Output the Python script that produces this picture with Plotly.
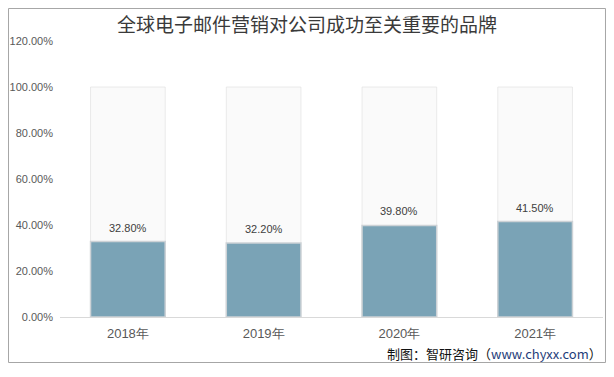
import plotly.graph_objects as go

years = ["2018年", "2019年", "2020年", "2021年"]
values = [0.328, 0.322, 0.398, 0.415]
background = [1.0, 1.0, 1.0, 1.0]
labels = ["32.80%", "32.20%", "39.80%", "41.50%"]
y_ticks = [0, 0.2, 0.4, 0.6, 0.8, 1.0, 1.2]

fig = go.Figure()
fig.add_trace(go.Bar(
    x=years, y=background, width=0.55,
    marker=dict(color="rgba(246,246,246,0.55)", line=dict(color="rgba(222,222,222,0.6)", width=1)),
    hoverinfo="skip", showlegend=False,
))
fig.add_trace(go.Bar(
    x=years, y=values, width=0.55,
    marker=dict(color="#7AA3B6", line=dict(color="#CDD2D6", width=1.5)),
    showlegend=False,
))

annotations = [
    dict(x=yr, y=v, text=t, xref="x", yref="y", yanchor="bottom", yshift=6, showarrow=False,
         font=dict(family="Liberation Sans, Arial", size=11, color="#404040"))
    for yr, v, t in zip(years, values, labels)
]
annotations.append(dict(
    text="制图：智研咨询（<span style='color:#1F3D7A'>www.chyxx.com</span>）",
    xref="paper", yref="paper", x=1.0018, y=-0.134, xanchor="right", yanchor="middle",
    showarrow=False, font=dict(family="Noto Sans CJK SC", size=13, color="#111111")))

fig.update_layout(
    width=598, height=355,
    barmode="overlay",
    paper_bgcolor="white", plot_bgcolor="white",
    margin=dict(l=52, r=3, t=33, b=46),
    title=dict(text="全球电子邮件营销对公司成功至关重要的品牌", xref="paper", x=0.4549, xanchor="center",
               y=0.952, yanchor="middle",
               font=dict(family="Noto Sans CJK SC", size=19, color="#3A3A3A")),
    xaxis=dict(showgrid=False, showline=True, linecolor="#D9D9D9", linewidth=1,
               tickfont=dict(family="Liberation Sans, Arial", size=13, color="#595959"),
               ticks="", ticklabelstandoff=4),
    yaxis=dict(range=[0, 1.2], tickvals=y_ticks, tickformat=".2%", showgrid=False,
               zeroline=False, showline=False, ticklabelstandoff=6,
               tickfont=dict(family="Liberation Sans, Arial", size=11, color="#595959")),
    shapes=[dict(type="rect", xref="paper", yref="paper", x0=-0.0948, x1=1.0046, y0=-0.1649, y1=1.1178,
                 line=dict(color="#A6A6A6", width=1), fillcolor="rgba(0,0,0,0)", layer="above")],
    annotations=annotations,
)
fig.write_html("out.html")
